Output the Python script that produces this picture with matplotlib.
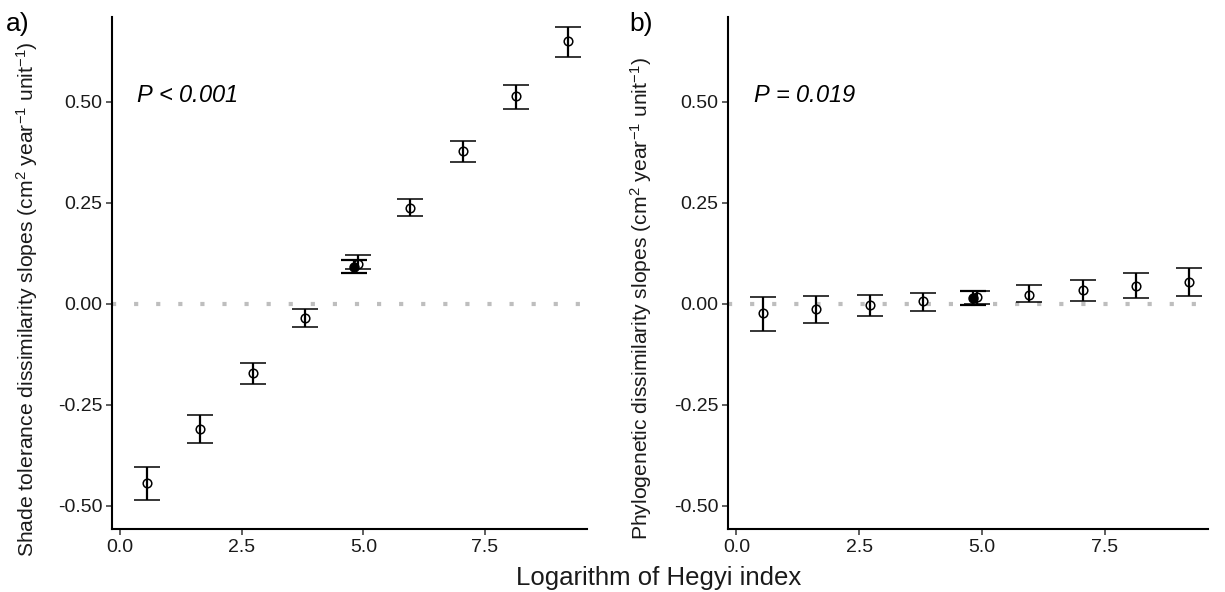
import matplotlib
matplotlib.use("Agg")
import matplotlib.pyplot as plt
import numpy as np

plt.rcParams['font.family'] = ['Liberation Sans', 'DejaVu Sans']
plt.rcParams['mathtext.fontset'] = 'custom'
plt.rcParams['mathtext.rm'] = 'Liberation Sans'
plt.rcParams['mathtext.it'] = 'Liberation Sans:italic'
plt.rcParams['axes.unicode_minus'] = False

# Bin centres on the log Hegyi scale
hegyi_bins = [0.55, 1.63, 2.72, 3.80, 4.90, 5.96, 7.05, 8.13, 9.21]
overall_x = 4.81

# Shade tolerance dissimilarity slopes: estimate and 95% interval
shade_est = [-0.443, -0.309, -0.171, -0.034, 0.099, 0.237, 0.379, 0.515, 0.651]
shade_lo = [-0.485, -0.343, -0.199, -0.056, 0.086, 0.218, 0.352, 0.482, 0.611]
shade_hi = [-0.403, -0.275, -0.145, -0.013, 0.121, 0.259, 0.402, 0.542, 0.686]
shade_mean = [0.092, 0.077, 0.109]  # estimate, low, high

# Phylogenetic dissimilarity slopes: estimate and 95% interval
phylo_est = [-0.023, -0.013, -0.002, 0.006, 0.016, 0.022, 0.035, 0.045, 0.054]
phylo_lo = [-0.066, -0.046, -0.031, -0.017, -0.001, 0.004, 0.008, 0.015, 0.020]
phylo_hi = [0.016, 0.020, 0.022, 0.028, 0.032, 0.047, 0.059, 0.077, 0.089]
phylo_mean = [0.014, -0.002, 0.033]

y_ticks = [-0.50, -0.25, 0.00, 0.25, 0.50]
x_ticks = [0.0, 2.5, 5.0, 7.5]

fig = plt.figure(figsize=(12.25, 5.92), dpi=100)
ax_a = fig.add_axes([112 / 1225, 63 / 592, 475 / 1225, 512 / 592])
ax_b = fig.add_axes([728 / 1225, 63 / 592, 480 / 1225, 512 / 592])


def draw_panel(ax, est, lo, hi, mean, ptext, ylabel, ylab_x, tag, tag_x):
    ax.axhline(0, color='#bebebe', lw=3, linestyle=(0, (1, 4.3)),
               dash_capstyle='butt', zorder=1)
    est = np.array(est)
    yerr = np.vstack([est - np.array(lo), np.array(hi) - est])
    m, mlo, mhi = mean
    ax.errorbar([overall_x], [m], yerr=[[m - mlo], [mhi - m]], fmt='o',
                color='black', ms=6.5, mfc='black', mec='black',
                ecolor='black', elinewidth=1.6, capsize=9.2, capthick=1.6,
                zorder=2)
    ax.errorbar(hegyi_bins, est, yerr=yerr, fmt='o', color='black',
                ms=6.2, mfc='none', mec='black', mew=1.1,
                ecolor='black', elinewidth=1.6, capsize=9.2, capthick=1.6,
                zorder=3)
    ax.set_xlim(-0.17, 9.6)
    ax.set_ylim(-0.557, 0.710)
    ax.set_xticks(x_ticks)
    ax.set_xticklabels([f"{v:.1f}" for v in x_ticks])
    ax.set_yticks(y_ticks)
    ax.set_yticklabels([f"{v:.2f}" for v in y_ticks])
    for side in ('top', 'right'):
        ax.spines[side].set_visible(False)
    for side in ('left', 'bottom'):
        ax.spines[side].set_linewidth(1.5)
        ax.spines[side].set_color('black')
    ax.tick_params(axis='both', length=4, width=1.1, color='#333333',
                   labelsize=14, labelcolor='#1a1a1a', pad=3)
    ax.text(0.33, 0.50, ptext, fontsize=17, style='italic',
            ha='left', va='baseline')
    fig.text(ylab_x / 1225, 1 - 299 / 592, ylabel, rotation=90,
             ha='center', va='center', fontsize=15.2, color='#1a1a1a')
    fig.text(tag_x / 1225, 1 - 24 / 592, tag, fontsize=19,
             ha='left', va='center')


draw_panel(ax_a, shade_est, shade_lo, shade_hi, shade_mean,
           r"$P$ < 0.001",
           r"Shade tolerance dissimilarity slopes (cm$^{2}$ year$^{-1}$ unit$^{-1}$)",
           27, "a)", 6)
draw_panel(ax_b, phylo_est, phylo_lo, phylo_hi, phylo_mean,
           r"$P$ = 0.019",
           r"Phylogenetic dissimilarity slopes (cm$^{2}$ year$^{-1}$ unit$^{-1}$)",
           641, "b)", 629)

fig.text(659 / 1225, 1 - 578 / 592, "Logarithm of Hegyi index",
         ha='center', va='center', fontsize=18.5, color='#1a1a1a')

fig.savefig("out.png", dpi=100)
